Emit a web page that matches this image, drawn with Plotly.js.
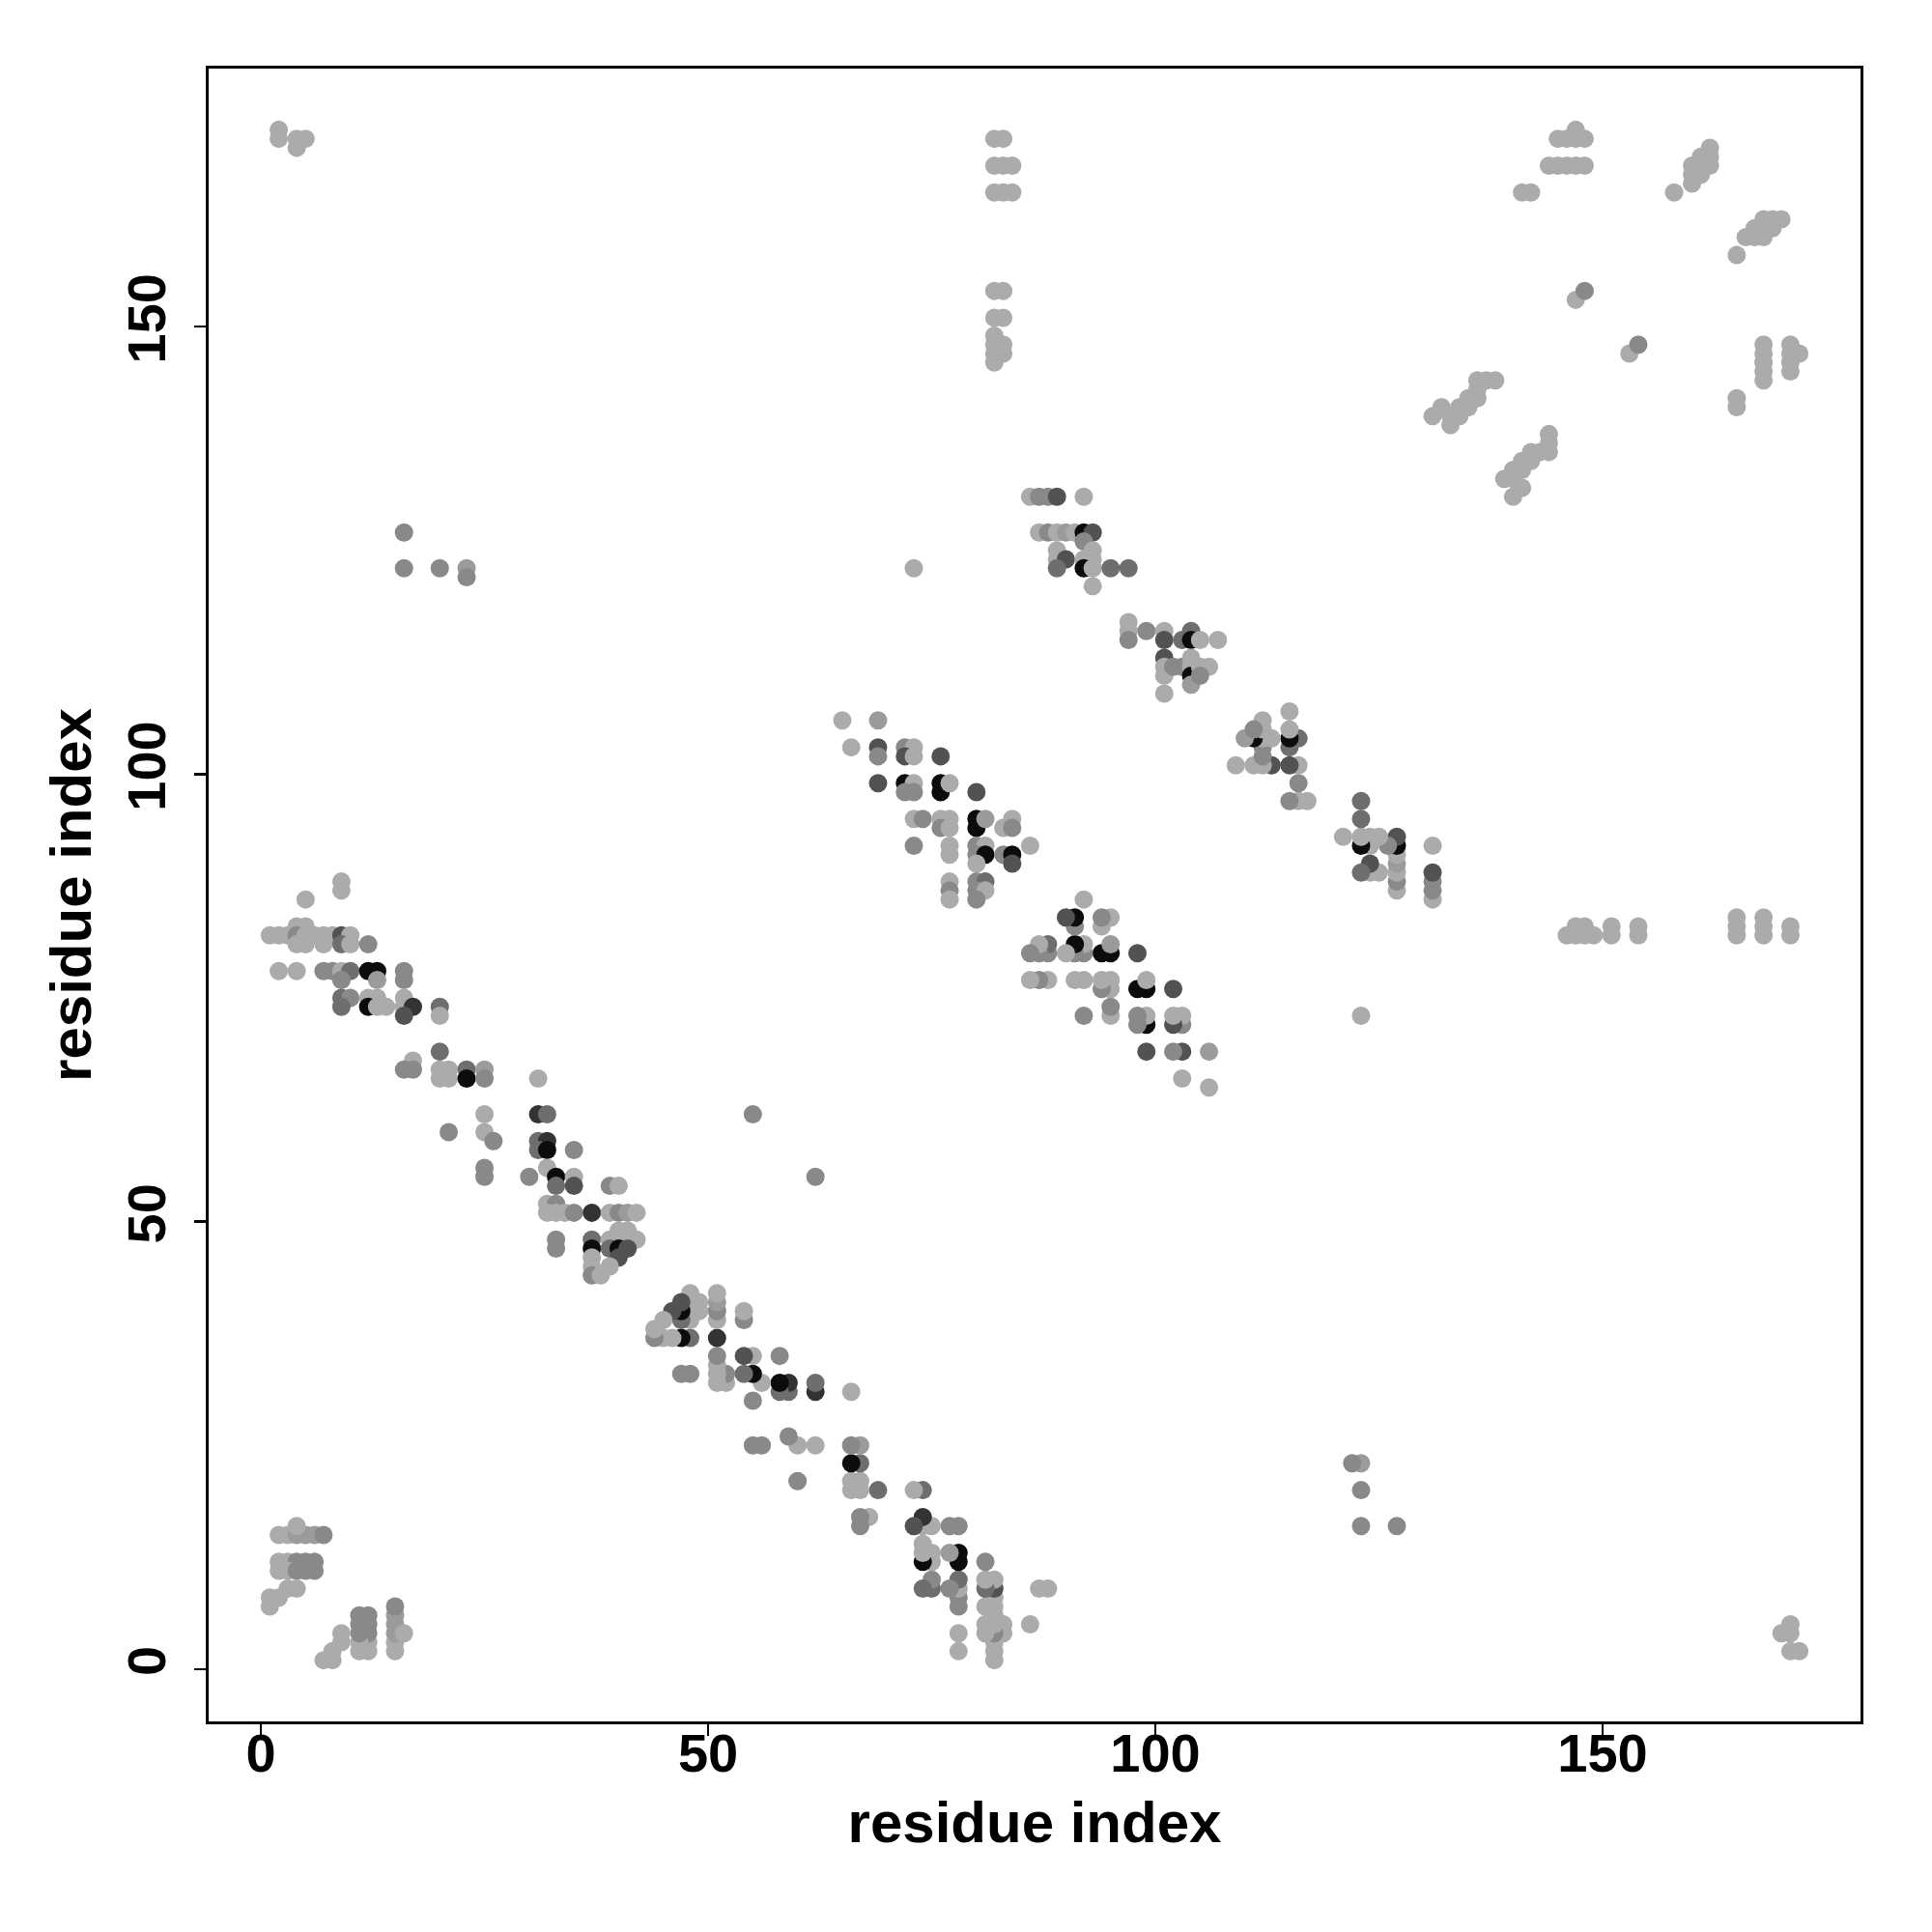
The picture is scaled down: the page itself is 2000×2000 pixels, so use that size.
<!DOCTYPE html>
<html>
<head>
<meta charset="utf-8">
<script src="https://cdn.plot.ly/plotly-3.0.1.min.js"></script>
<style>html,body{margin:0;padding:0;background:#fff;}#chart{width:2000px;height:2000px;}</style>
</head>
<body>
<div id="chart"></div>
<script>
// Contact map (symmetric). Each contact listed once as (residue i, residue j) with i < j,
// plus a confidence level (1 = weakest ... 7 = strongest).
const resI = [
  // main antiparallel sheet 1-88
  9,9,5,4,5,
  1,2,3,4,5,6,7,8,9,10,
  4,5,7,9,10,12,
  2,4,7,8,9,10,12,13,16,
  9,13,16,
  9,10,12,13,16,
  9,12,13,14,16,17,20,
  16,20,
  20,17,
  16,17,20,21,23,25,
  20,21,23,25,31,
  25,31,32,55,
  21,25,
  26,31,32,
  31,32,35,
  25,32,
  25,30,33,35,
  33,35,39,40,
  32,33,
  32,33,34,35,37,39,40,41,42,
  40,41,
  33,37,39,40,41,42,
  33,37,39,40,41,
  37,40,
  37,39,
  37,38,
  // second sheet 65-106
  65,69,66,69,69,72,73,72,73,76,69,72,73,72,73,76,76,77,80,
  73,74,76,77,76,77,80,80,81,83,84,84,
  73,77,77,80,81,80,81,80,83,84,84,86,
  77,77,77,80,81,80,81,80,
  // strand pairing 86-131
  86,87,88,89,92,87,88,89,90,91,92,93,92,89,93,89,90,92,93,89,92,93,95,97,93,
  // cluster 97-117
  97,97,97,99,101,101,103,104,104,105,107,101,101,101,101,102,103,104,104,104,104,105,106,105,
  // isolated / long range
  16,16,20,23,23,73,
  2,2,4,4,5,
  2,3,4,5,6,7,4,2,3,4,5,6,2,3,4,5,6,1,1,2,3,4,
  82,82,83,82,83,82,82,83,82,83,82,83,84,82,83,84,82,83,
  145,146,147,148,147,144,145,146,147,148,141,142,158,
  160,160,160,161,161,161,162,162,162,147,148,
  136,137,138,133,134,135,136,136,134,133,135,132,131
];
const resJ = [
  88,87,86,83,83,
  82,82,82,82,82,82,82,82,82,82,
  81,81,81,81,81,81,
  78,78,78,78,78,78,78,78,78,
  77,77,77,
  75,75,75,75,75,
  74,74,74,74,74,74,74,
  73,73,
  69,68,
  67,67,67,67,67,67,
  66,66,66,66,66,
  62,62,62,62,
  60,60,
  59,59,59,
  58,58,58,
  56,56,
  55,55,55,55,
  54,54,54,54,
  52,52,
  51,51,51,51,51,51,51,51,51,
  49,49,
  48,48,48,48,48,48,
  47,47,47,47,47,
  46,46,
  45,45,
  44,44,
  106,106,103,103,102,103,103,102,102,102,99,99,99,98,98,99,98,99,98,
  95,95,95,95,94,94,95,94,95,94,95,94,
  92,92,91,92,92,91,91,90,91,91,90,92,
  88,87,86,88,88,87,87,86,
  131,131,131,131,131,127,127,127,127,127,127,127,126,125,125,124,124,124,124,123,123,123,123,123,121,
  117,116,115,116,116,115,115,116,115,115,115,113,112,111,109,112,112,113,112,111,110,112,112,111,
  127,123,123,123,122,123,
  172,171,170,171,171,
  15,15,15,15,15,15,16,12,12,12,12,12,11,11,11,11,11,7,8,8,9,9,
  146,147,147,148,148,149,151,151,154,154,165,165,165,168,168,168,171,171,
  171,171,171,171,172,168,168,168,168,168,165,165,165,
  166,167,168,167,168,169,168,169,170,153,154,
  144,144,144,139,140,141,142,143,141,140,142,141,140
];
const level = [
  1,1,1,1,1,
  1,1,1,3,1,1,1,1,5,1,
  1,1,1,4,1,3,
  1,1,3,3,1,4,7,7,3,
  3,2,3,
  4,3,1,1,1,
  4,7,1,1,1,6,4,
  5,1,
  4,1,
  3,3,1,1,4,2,
  1,1,7,3,1,
  1,6,4,3,
  3,1,
  3,4,6,
  4,7,3,
  3,1,
  3,3,7,1,
  4,5,3,1,
  1,3,
  1,1,1,3,6,1,3,2,1,
  1,1,
  3,4,1,1,1,1,
  3,7,4,7,5,
  1,5,
  1,1,
  3,1,
  1,2,1,5,3,3,1,5,1,5,5,7,1,3,3,7,7,1,5,
  1,3,1,1,3,1,7,7,2,1,1,3,
  3,1,1,3,1,3,7,1,3,7,5,1,
  1,3,1,3,4,3,1,3,
  1,3,3,5,1,1,3,1,2,1,7,5,3,1,1,1,5,1,1,4,7,1,4,4,1,
  1,1,3,3,1,5,4,4,7,1,1,5,1,1,1,3,3,1,1,7,2,1,1,3,
  3,3,3,2,3,1,
  1,1,1,1,1,
  1,1,2,2,2,3,1,1,1,3,3,3,1,1,3,3,3,1,1,1,1,1,
  1,1,1,1,1,1,1,1,1,1,1,1,1,1,1,1,1,1,
  1,1,1,1,1,1,1,1,1,1,1,1,1,
  1,1,1,1,1,1,1,1,1,1,3,
  1,1,1,1,1,1,1,1,1,1,1,1,1
];

const greys = [[0,'#ababab'],[1/6,'#9b9b9b'],[2/6,'#898989'],[3/6,'#6e6e6e'],[4/6,'#525252'],[5/6,'#333333'],[1,'#0c0c0c']];
const mk = {size:19, color:level, colorscale:greys, cmin:1, cmax:7, showscale:false, opacity:1, line:{width:0}};

const traces = [
  {type:'scatter', mode:'markers', x:resI, y:resJ, marker:mk, hoverinfo:'x+y'},
  {type:'scatter', mode:'markers', x:resJ, y:resI, marker:mk, hoverinfo:'x+y'}
];

const tickF = {family:'Liberation Sans, Arial, Helvetica, sans-serif', size:56, color:'#000', weight:700};
const titleF = {family:'Liberation Sans, Arial, Helvetica, sans-serif', size:60, color:'#000', weight:700};
const axisBase = {
  range:[-5.84,178.84], autorange:false, tickvals:[0,50,100,150], ticktext:['0','50','100','150'],
  ticks:'outside', ticklen:12, tickwidth:2.5, tickcolor:'#000',
  showgrid:false, zeroline:false, showline:true, mirror:true, linewidth:3, linecolor:'#000',
  tickfont:tickF, automargin:false
};
const layout = {
  width:2000, height:2000, showlegend:false,
  paper_bgcolor:'#fff', plot_bgcolor:'#fff',
  margin:{l:216, r:74, t:71, b:218},
  xaxis:Object.assign({}, axisBase, {ticklabelstandoff:-30, title:{text:'residue index', font:titleF, standoff:20}}),
  yaxis:Object.assign({}, axisBase, {tickangle:-90, ticklabelstandoff:8, title:{text:'residue index', font:titleF, standoff:6}})
};
Plotly.newPlot('chart', traces, layout, {staticPlot:true});
</script>
</body>
</html>
